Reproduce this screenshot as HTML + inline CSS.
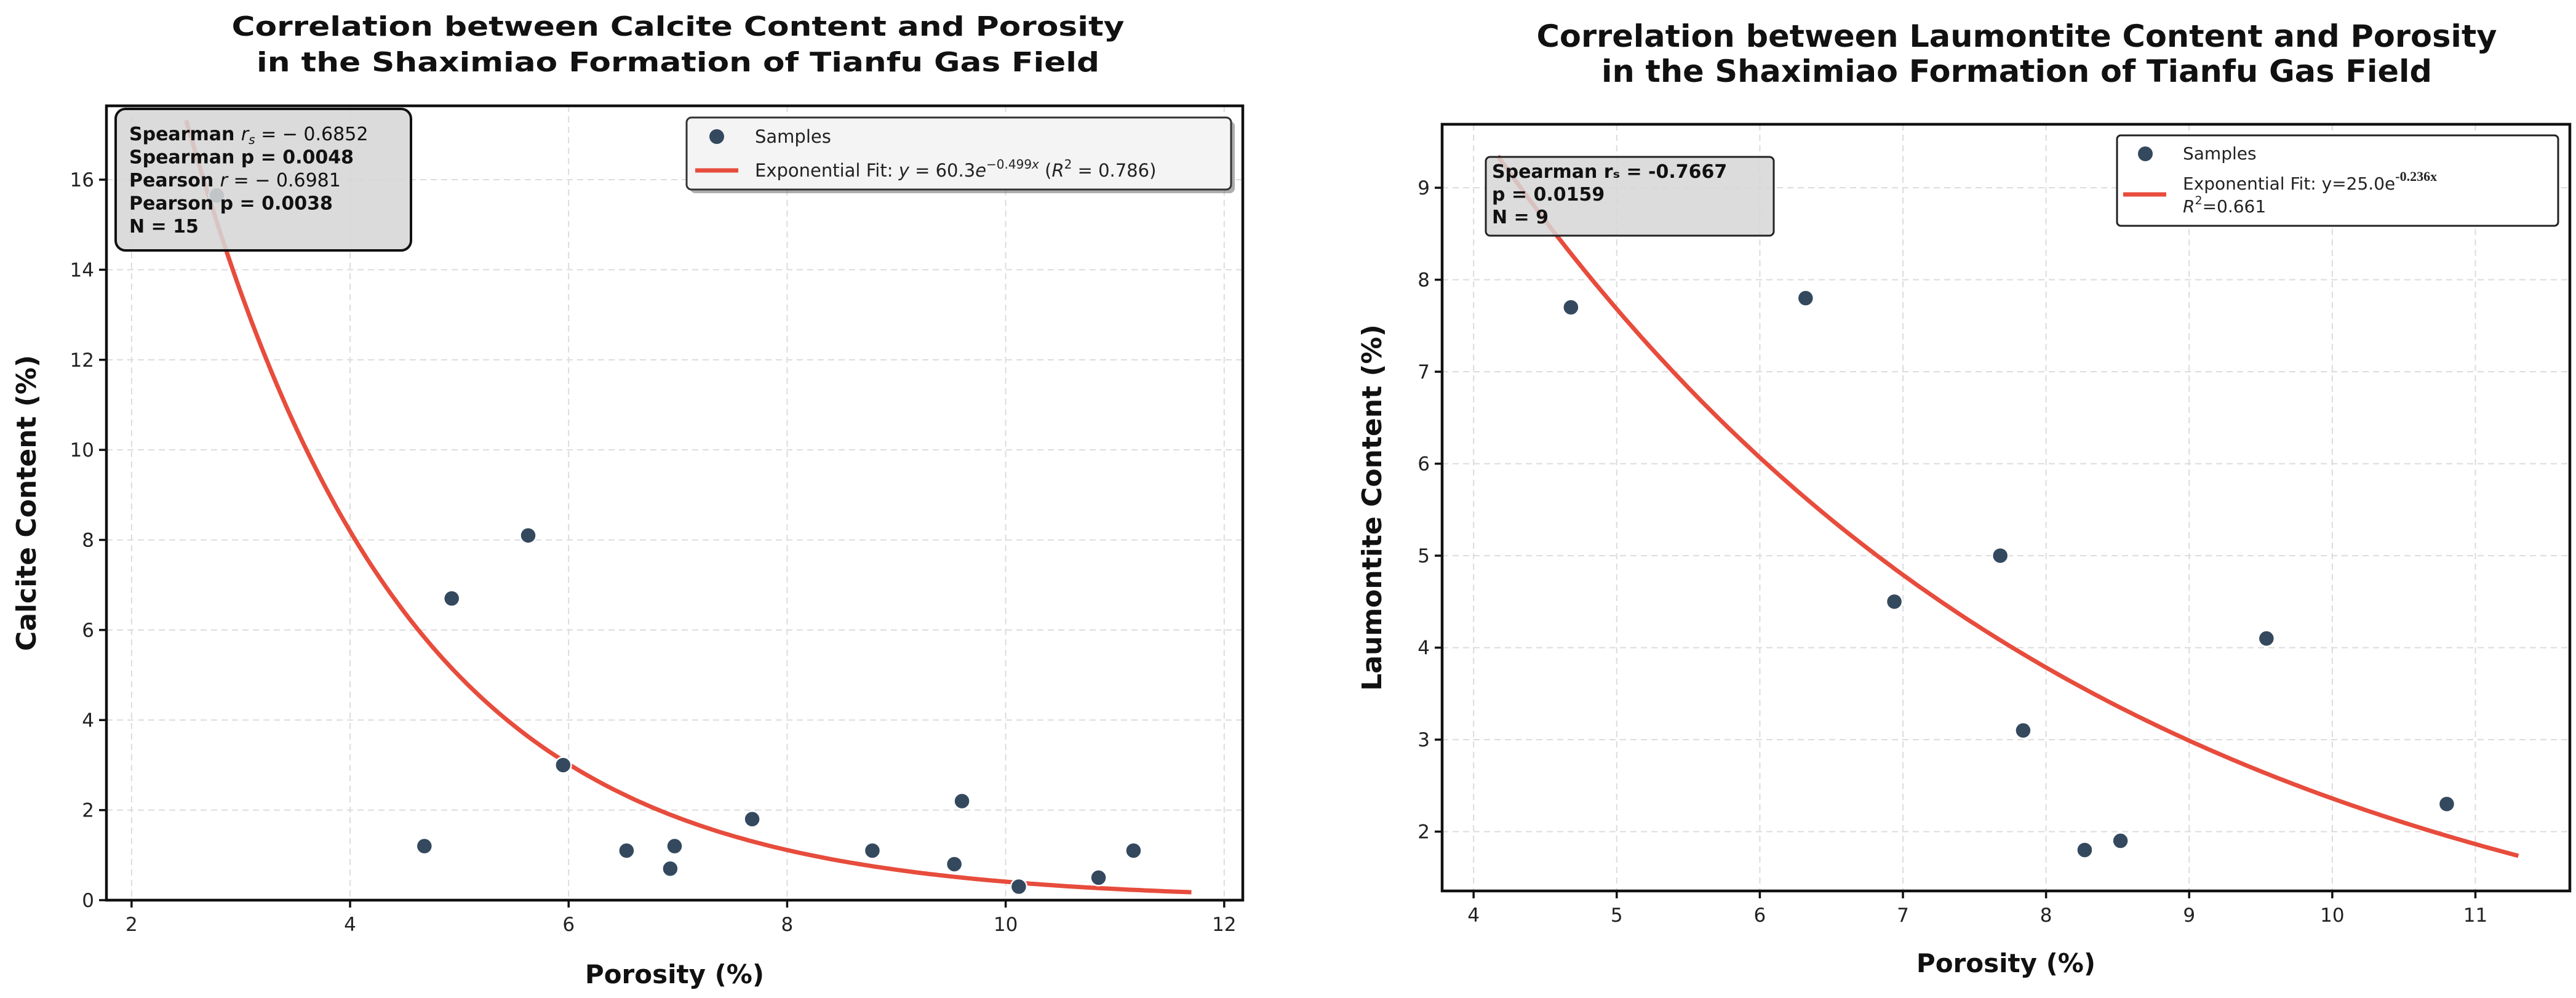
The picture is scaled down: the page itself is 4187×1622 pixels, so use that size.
<!DOCTYPE html>
<html><head><meta charset="utf-8"><style>
html,body{margin:0;padding:0;background:#fff;}
svg{display:block;font-family:"DejaVu Sans","Liberation Sans",sans-serif;}
</style></head><body>
<svg id="fig" width="4187" height="1622" viewBox="0 0 4187 1622" xmlns="http://www.w3.org/2000/svg">
<rect width="4187" height="1622" fill="#fff"/>
</svg>
<script>
// Left chart data: calcite vs porosity
const calciteX = [2.78, 4.68, 4.93, 5.63, 5.95, 6.53, 6.93, 6.97, 7.68, 8.78, 9.53, 9.60, 10.12, 10.85, 11.17];
const calciteY = [15.65, 1.2, 6.7, 8.1, 3.0, 1.1, 0.7, 1.2, 1.8, 1.1, 0.8, 2.2, 0.3, 0.5, 1.1];
const calciteFitA = [60.3];
const calciteFitB = [-0.499];
const calciteFitRange = [2.5, 11.7];
const calciteXTicks = [2, 4, 6, 8, 10, 12];
const calciteYTicks = [0, 2, 4, 6, 8, 10, 12, 14, 16];
// Right chart data: laumontite vs porosity
const laumX = [4.68, 6.32, 6.94, 7.68, 7.84, 8.27, 8.52, 9.54, 10.80];
const laumY = [7.7, 7.8, 4.5, 5.0, 3.1, 1.8, 1.9, 4.1, 2.3];
const laumFitA = [25.0];
const laumFitB = [-0.236];
const laumFitRange = [4.17, 11.3];
const laumXTicks = [4, 5, 6, 7, 8, 9, 10, 11];
const laumYTicks = [2, 3, 4, 5, 6, 7, 8, 9];

const NS = "http://www.w3.org/2000/svg";
const svg = document.getElementById('fig');
function mk(tag, attrs, parent, text){
  const e = document.createElementNS(NS, tag);
  for (const k in attrs) e.setAttribute(k, attrs[k]);
  if (text !== undefined) e.textContent = text;
  (parent || svg).appendChild(e);
  return e;
}

function chart(cfg){
  const g = mk('g', {});
  
  
  const sx = v => cfg.L + (v - cfg.xmin) / (cfg.xmax - cfg.xmin) * (cfg.R - cfg.L);
  const sy = v => cfg.B - (v - cfg.ymin) / (cfg.ymax - cfg.ymin) * (cfg.B - cfg.T);
  mk('rect', {x:cfg.L, y:cfg.T, width:cfg.R-cfg.L, height:cfg.B-cfg.T, fill:'#fff'}, g);
  const grid = mk('g', {stroke:'#dcdcdc','stroke-width':2,'stroke-dasharray':'10,7'}, g);
  
  
  cfg.xt.forEach(v => mk('line', {x1:sx(v), x2:sx(v), y1:cfg.T, y2:cfg.B}, grid));
  cfg.yt.forEach(v => mk('line', {x1:cfg.L, x2:cfg.R, y1:sy(v), y2:sy(v)}, grid));
  let d = '';
  const n = 200;
  for (let i = 0; i <= n; i++){
    const x = cfg.fr[0] + (cfg.fr[1]-cfg.fr[0]) * i / n;
    const y = cfg.fa[0] * Math.exp(cfg.fb[0] * x);
    d += (i ? 'L' : 'M') + sx(x).toFixed(1) + ',' + sy(y).toFixed(1);
  }
  const fit = mk('path', {d:d, fill:'none', stroke:'#e74c3c', 'stroke-width':7}, g);
  
  
  cfg.px.forEach((x, i) => {
    const c = mk('circle', {cx:sx(x), cy:sy(cfg.py[i]), r:13, fill:'#34495e', stroke:'#fff', 'stroke-width':2.5}, g);
    
    
  });
  const sp = mk('rect', {x:cfg.L, y:cfg.T, width:cfg.R-cfg.L, height:cfg.B-cfg.T, fill:'none', stroke:'#111', 'stroke-width':4.5}, g);
  
  
  cfg.xt.forEach(v => {
    mk('line', {x1:sx(v), x2:sx(v), y1:cfg.B, y2:cfg.B+12, stroke:'#111','stroke-width':3.5}, g);
    const t = mk('text', {x:sx(v), y:cfg.B+50, 'font-size':31, 'text-anchor':'middle', fill:'#222'}, g, String(v));
    
    
  });
  cfg.yt.forEach(v => {
    mk('line', {x1:cfg.L-12, x2:cfg.L, y1:sy(v), y2:sy(v), stroke:'#111','stroke-width':3.5}, g);
    const t = mk('text', {x:cfg.L-20, y:sy(v)+11, 'font-size':31, 'text-anchor':'end', fill:'#222'}, g, String(v));
    
    
  });
  const xl = mk('text', {x:(cfg.L+cfg.R)/2, y:cfg.xly, 'font-size':42, 'font-weight':'bold', 'text-anchor':'middle', fill:'#111'}, g, 'Porosity (%)');
  
  
  const yl = mk('text', {x:0, y:0, 'font-size':44, 'font-weight':'bold', 'text-anchor':'middle', fill:'#111', transform:'translate(' + cfg.ylx + ',' + (cfg.T+cfg.B)/2 + ') rotate(-90)'}, g, cfg.ylabel);
  
  
  cfg.title.forEach((s, i) => {
    const t = mk('text', {x:cfg.tx, y:cfg.ty[i], 'font-size':cfg.tfs, 'font-weight':'bold', 'text-anchor':'middle', fill:'#111', textLength:cfg.tlen[i], lengthAdjust:'spacingAndGlyphs'}, g, s);
    
    
  });
  return {g, sx, sy};
}

const c1 = chart({name:'calcite-chart', L:173, R:2020, T:172, B:1463, xmin:1.77, xmax:12.17, ymin:0, ymax:17.64,
  xt:calciteXTicks, yt:calciteYTicks, px:calciteX, py:calciteY, fa:calciteFitA, fb:calciteFitB, fr:calciteFitRange,
  xly:1598, ylx:58, ylabel:'Calcite Content (%)', tx:1102, ty:[58,116], tfs:44, tlen:[1451,1370],
  title:['Correlation between Calcite Content and Porosity','in the Shaximiao Formation of Tianfu Gas Field']});
(function(){
  const g = c1.g;
  const b = mk('rect', {x:188, y:177, width:480, height:230, rx:16, fill:'#d6d6d6', 'fill-opacity':0.88, stroke:'#111', 'stroke-width':4}, g);
  
  
  const lines = [
    ['Spearman ', 'r', 's', ' = \u2212 0.6852', true],
    ['Spearman p = 0.0048'],
    ['Pearson ', 'r', '', ' = \u2212 0.6981', true],
    ['Pearson p = 0.0038'],
    ['N = 15']];
  lines.forEach((l, i) => {
    const t = mk('text', {x:210, y:228 + i*37.5, 'font-size':30, fill:'#111'}, g);
    
    
    mk('tspan', {'font-weight':'bold'}, t, l[0]);
    if (l[4]) {
      mk('tspan', {'font-style':'italic'}, t, l[1]);
      if (l[2]) mk('tspan', {'font-style':'italic','font-size':20, dy:6}, t, l[2]);
      mk('tspan', l[2] ? {dy:-6} : {}, t, l[3]);
    }
  });
  const lg = mk('g', {}, g);
  
  
  mk('rect', {x:1122, y:197, width:885, height:117, rx:8, fill:'#777', opacity:0.6}, lg);
  mk('rect', {x:1116, y:191, width:885, height:117, rx:8, fill:'#f4f4f4', stroke:'#333', 'stroke-width':3}, lg);
  mk('circle', {cx:1165, cy:222, r:12, fill:'#34495e'}, lg);
  mk('text', {x:1227, y:232, 'font-size':29, fill:'#222'}, lg, 'Samples');
  mk('line', {x1:1130, x2:1200, y1:277, y2:277, stroke:'#e74c3c', 'stroke-width':7}, lg);
  const t = mk('text', {x:1227, y:287, 'font-size':29, fill:'#222'}, lg);
  mk('tspan', {}, t, 'Exponential Fit: ');
  mk('tspan', {'font-style':'italic'}, t, 'y');
  mk('tspan', {}, t, ' = 60.3');
  mk('tspan', {'font-style':'italic'}, t, 'e');
  mk('tspan', {'font-size':20, dy:-13}, t, '\u22120.499');
  mk('tspan', {'font-size':20, 'font-style':'italic'}, t, 'x');
  mk('tspan', {dy:13}, t, ' (');
  mk('tspan', {'font-style':'italic'}, t, 'R');
  mk('tspan', {'font-size':20, dy:-13}, t, '2');
  mk('tspan', {dy:13}, t, ' = 0.786)');
})();

const c2 = chart({name:'laumontite-chart', L:2344, R:4177, T:202, B:1448, xmin:3.78, xmax:11.66, ymin:1.355, ymax:9.69,
  xt:laumXTicks, yt:laumYTicks, px:laumX, py:laumY, fa:laumFitA, fb:laumFitB, fr:laumFitRange,
  xly:1580, ylx:2245, ylabel:'Laumontite Content (%)', tx:3278, ty:[76,133], tfs:50, tlen:[1561,1350],
  title:['Correlation between Laumontite Content and Porosity','in the Shaximiao Formation of Tianfu Gas Field']});
(function(){
  const g = c2.g;
  const b = mk('rect', {x:2415, y:255, width:468, height:128, rx:7, fill:'#d6d6d6', 'fill-opacity':0.85, stroke:'#222', 'stroke-width':3}, g);
  
  
  ['Spearman r\u209B = -0.7667', 'p = 0.0159', 'N = 9'].forEach((s, i) => {
    const t = mk('text', {x:2425, y:289 + i*37, 'font-size':30, 'font-weight':'bold', fill:'#111'}, g, s);
    
    
  });
  const lg = mk('g', {}, g);
  
  
  mk('rect', {x:3441, y:220, width:717, height:147, rx:6, fill:'#fff', stroke:'#222', 'stroke-width':3}, lg);
  mk('circle', {cx:3487, cy:250, r:12, fill:'#34495e'}, lg);
  mk('text', {x:3548, y:259, 'font-size':28, fill:'#222'}, lg, 'Samples');
  mk('line', {x1:3451, x2:3521, y1:316, y2:316, stroke:'#e74c3c', 'stroke-width':7}, lg);
  const t = mk('text', {x:3548, y:308, 'font-size':28, fill:'#222'}, lg);
  mk('tspan', {}, t, 'Exponential Fit: y=25.0e');
  mk('tspan', {'font-size':22, 'font-weight':'bold', 'font-family':'Liberation Serif, serif', dy:-14}, t, '-0.236x');
  const t2 = mk('text', {x:3548, y:345, 'font-size':28, fill:'#222'}, lg);
  mk('tspan', {'font-style':'italic'}, t2, 'R');
  mk('tspan', {'font-size':19, dy:-13}, t2, '2');
  mk('tspan', {dy:13}, t2, '=0.661');
})();
</script>
</body></html>
